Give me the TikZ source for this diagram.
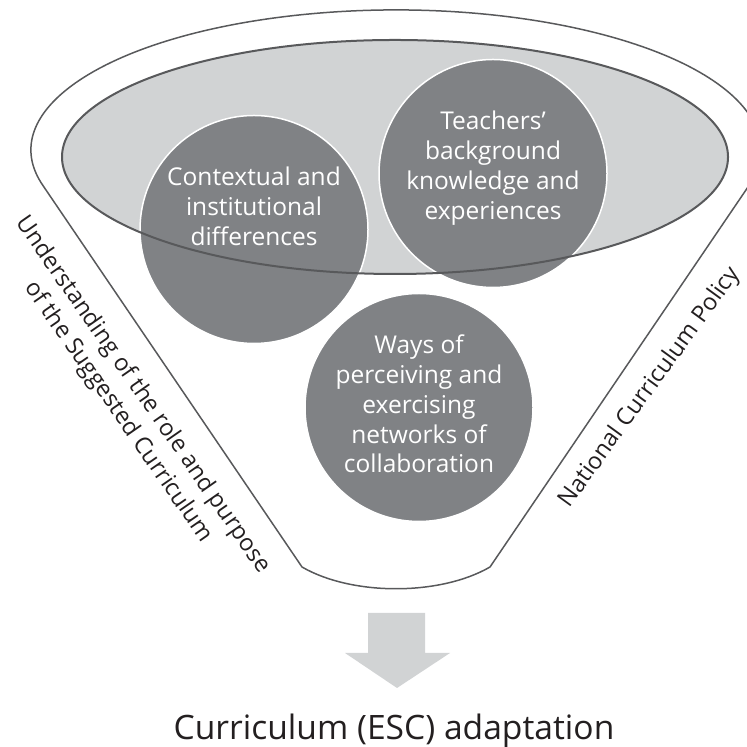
\documentclass[tikz,border=0pt]{standalone}
\usepackage{fontspec}
\setmainfont{Open Sans}
\usepackage{xcolor}
\definecolor{funnelline}{HTML}{58595B}
\definecolor{lightfill}{HTML}{D1D3D4}
\definecolor{bubblefill}{HTML}{808285}
\definecolor{labeltext}{HTML}{231F20}
\tikzstyle{funnel} = [draw=funnelline, line width=0.75pt, fill=white, line join=round]
\tikzstyle{bubble} = [circle, fill=bubblefill, draw=white, line width=0.75pt, minimum size=114pt, inner sep=0pt]
\tikzstyle{bubbletext} = [text=white, align=center, inner sep=0pt, font=\fontsize{12.25}{14.9}\selectfont]
\tikzstyle{sidelabel} = [text=labeltext, align=center, inner sep=0pt, font=\fontsize{11.75}{15}\selectfont]
\tikzstyle{blockarrow} = [fill=lightfill, draw=none]

\begin{document}
\begin{tikzpicture}[x=0.5pt, y=0.5pt]
\useasboundingbox (0,0) rectangle (746,747);
%----------------------------------------------------------------------------
% Funnel and inner disc
\draw [funnel] (43.4,560.8) arc[start angle=195, end angle=-15, x radius=182.5pt, y radius=70pt]
	-- (490,180) .. controls (440,151) and (352,151) .. (302,180) -- cycle;
\fill [lightfill] (395,590) ellipse [x radius=166.5pt, y radius=58.5pt];

%----------------------------------------------------------------------------
% Placement of bubbles
\node (ctxBubble) [bubble] at (254,517.5) {};
\node (teachBubble) [bubble] at (493,573.5) {};
\node (waysBubble) [bubble] at (419,339.5) {};

\draw [funnelline, line width=1pt] (395,590) ellipse [x radius=166.5pt, y radius=58.5pt];

\node (ctxText) [bubbletext] at ([yshift=11.5pt] ctxBubble.center) {Contextual and\\institutional\\differences};
\node (teachText) [bubbletext] at ([yshift=2.75pt] teachBubble.center) {Teachers’\\background\\knowledge and\\experiences};
\node (waysText) [bubbletext] at ([yshift=1.75pt] waysBubble.center) {Ways of\\perceiving and\\exercising\\networks of\\collaboration};

%----------------------------------------------------------------------------
% Side labels
\node (leftLabel) [sidelabel, rotate=-55.2] at (130.5,343.5) {Understanding of the role and purpose\\of the Suggested Curriculum};
\node (rightLabel) [sidelabel, rotate=54] at (650,359.5) {National Curriculum Policy};

%----------------------------------------------------------------------------
% Outcome
\fill [blockarrow] (368,134) -- (425,134) -- (425,94) -- (450,94) -- (397,59) -- (345,94) -- (368,94) -- cycle;
\node (adaptTitle) [anchor=base, text=labeltext, inner sep=0pt, font=\fontsize{16.8}{20}\selectfont] at (394,7) {Curriculum (ESC) adaptation};
\end{tikzpicture}
\end{document}
